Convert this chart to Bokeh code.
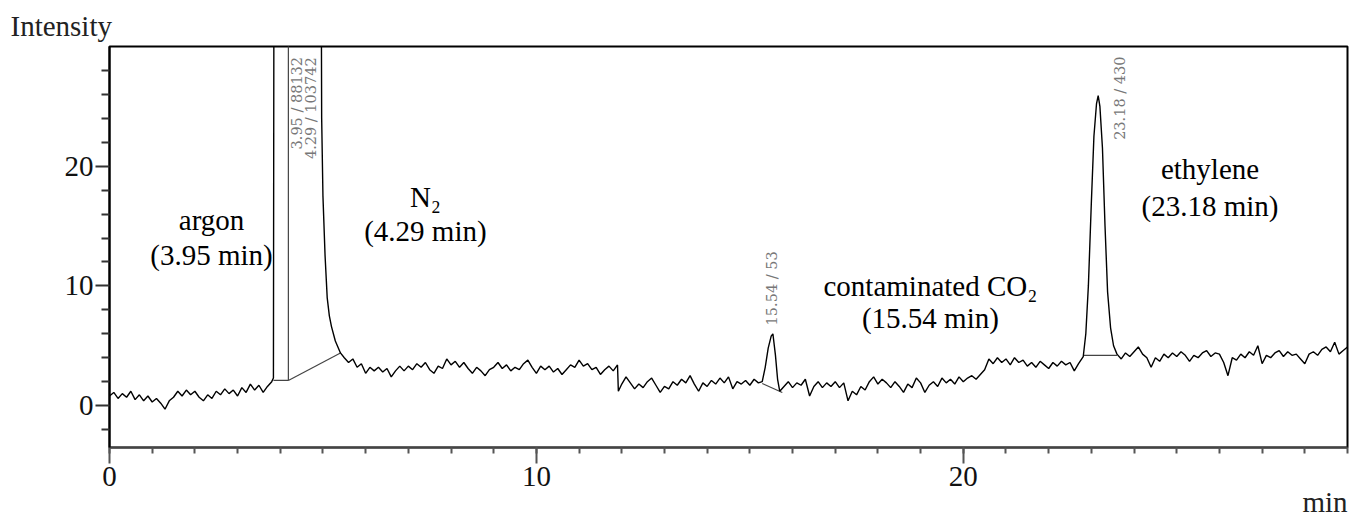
import math
import numpy as np
from bokeh.plotting import figure
from bokeh.models import (Range1d, SingleIntervalTicker, FixedTicker, Title,
                          ColumnDataSource)
from bokeh.core.properties import value
from bokeh.embed import file_html
from bokeh.resources import INLINE

# ---------------- data ----------------
# baseline segment before argon (0.0 - 3.8 min, 0.1 min steps)
seg_a = [0.8, 1.1, 0.6, 1.0, 0.7, 1.2, 0.5, 0.9, 0.4, 0.8, 0.3, 0.6, 0.2, -0.3, 0.4,
         0.7, 1.2, 0.8, 1.3, 0.9, 1.2, 0.7, 0.4, 0.9, 0.6, 1.2, 0.9, 1.4, 1.0, 1.3,
         0.8, 1.5, 1.1, 1.8, 1.3, 1.7, 1.1, 1.6, 2.0]
# argon rise + N2 tail (off-scale part above the frame)
peak1_t = [3.84, 3.86, 4.94, 4.97, 5.00, 5.05, 5.10, 5.15, 5.20, 5.29, 5.35, 5.41]
peak1_y = [2.3, 60.0, 60.0, 24.0, 17.5, 12.5, 9.0, 7.5, 6.6, 5.4, 4.9, 4.4]
# baseline 5.5 - 11.9 min
seg_b = [4.0, 3.6, 3.9, 3.2, 3.5, 2.7, 3.2, 2.9, 3.2, 2.8, 3.1, 2.4, 2.9, 3.3, 2.9,
         3.3, 3.0, 3.5, 3.2, 3.6, 3.0, 2.7, 3.3, 3.1, 3.9, 3.4, 3.7, 3.2, 3.6, 3.1,
         2.7, 3.2, 2.9, 2.5, 3.0, 3.2, 3.6, 3.1, 3.4, 2.9, 3.2, 3.0, 3.5, 3.8, 3.2,
         2.7, 3.3, 3.0, 3.3, 2.8, 3.1, 2.6, 3.0, 3.4, 3.2, 3.8, 3.3, 3.5, 3.0, 3.2,
         2.6, 3.0, 3.3, 2.9, 3.4]
step_t = [11.92]
step_y = [1.2]
# baseline 12.0 - 15.2 min
seg_c = [1.8, 2.4, 1.9, 1.4, 1.8, 1.5, 2.0, 2.3, 1.7, 1.1, 1.6, 1.4, 2.0, 1.7, 2.2,
         1.9, 2.5, 1.8, 1.2, 1.9, 1.6, 2.1, 1.8, 2.3, 1.9, 2.4, 1.4, 2.0, 1.8, 2.1,
         1.7, 2.2, 1.9]
# CO2 peak
peak3_t = [15.29, 15.36, 15.43, 15.50, 15.54, 15.60, 15.65, 15.70]
peak3_y = [2.0, 3.2, 4.8, 5.8, 6.0, 4.2, 2.2, 1.2]
# baseline 15.8 - 22.7 min
seg_d = [1.6, 2.0, 1.5, 1.9, 1.7, 2.2, 0.8, 1.6, 2.0, 1.5, 1.9, 1.6, 2.0, 1.5, 1.9,
         0.4, 1.2, 0.9, 1.6, 1.3, 2.0, 2.4, 1.8, 2.2, 1.9, 1.5, 2.0, 1.6, 1.1, 1.8,
         1.5, 2.3, 1.9, 1.1, 1.7, 2.0, 1.6, 2.3, 1.9, 2.2, 1.8, 2.4, 2.0, 2.3, 2.5,
         2.2, 2.6, 3.0, 3.9, 3.5, 4.0, 3.6, 3.9, 3.4, 4.0, 3.6, 3.8, 3.3, 3.6, 3.2,
         3.7, 3.4, 3.1, 3.6, 3.3, 3.7, 3.4, 3.6, 2.9, 3.5]
# ethylene peak
peak4_t = [22.81, 22.87, 22.93, 23.00, 23.06, 23.12, 23.16, 23.20, 23.26, 23.32,
           23.38, 23.45, 23.52, 23.60]
peak4_y = [4.1, 6.0, 10.0, 17.0, 22.5, 25.2, 25.9, 25.0, 21.5, 15.0, 9.5, 6.5, 5.0, 4.3]
# baseline 23.7 - 29.0 min
seg_e = [3.9, 4.4, 4.1, 4.5, 4.9, 4.3, 4.0, 3.2, 4.0, 3.7, 4.3, 4.0, 4.4, 4.1, 4.5,
         4.2, 3.7, 4.2, 4.0, 4.4, 4.6, 4.1, 4.4, 4.3, 3.6, 2.5, 4.0, 3.8, 4.3, 4.0,
         4.5, 4.2, 5.0, 3.5, 4.2, 4.0, 4.4, 4.6, 4.1, 4.5, 4.2, 4.3, 3.9, 3.5, 4.3,
         4.5, 4.2, 4.7, 4.9, 4.5, 5.3, 4.3, 4.6, 4.9]

# integration baselines (start t, start y, end t, end y)
base_t0 = [3.84, 4.19, 4.19, 15.29, 22.81]
base_y0 = [2.1, 2.1, 2.1, 1.85, 4.2]
base_t1 = [4.19, 4.19, 5.41, 15.76, 23.60]
base_y1 = [2.1, 60.0, 4.4, 1.1, 4.2]

# peak table
peak_rt = [3.95, 4.29, 15.54, 23.18]
peak_area = [88132, 103742, 53, 430]
compound = ["argon", "N\u2082", "contaminated CO\u2082", "ethylene"]

x_tick_interval = 10
y_major_ticks = [0, 10, 20]
y_minor_ticks = [-2, 2, 4, 6, 8, 12, 14, 16, 18, 22, 24, 26, 28]

# ---------------- assemble trace ----------------
def seg_times(start, n):
    return list(np.round(start + 0.1 * np.arange(n), 2))

t_all = (seg_times(0.0, len(seg_a)) + peak1_t + seg_times(5.5, len(seg_b)) + step_t +
         seg_times(12.0, len(seg_c)) + peak3_t + seg_times(15.8, len(seg_d)) +
         peak4_t + seg_times(23.7, len(seg_e)))
y_all = (seg_a + peak1_y + seg_b + step_y + seg_c + peak3_y + seg_d + peak4_y + seg_e)

SERIF = "Liberation Serif"

p = figure(width=1350, height=522, output_backend="svg", toolbar_location=None,
           x_range=Range1d(0, 29.0), y_range=Range1d(-3.5, 30.0),
           min_border_left=109, min_border_right=3, min_border_top=46,
           min_border_bottom=75, background_fill_color="white",
           border_fill_color="white", outline_line_color="black",
           outline_line_width=2)
p.grid.visible = False

# axes
p.xaxis.ticker = SingleIntervalTicker(interval=x_tick_interval, num_minor_ticks=10)
p.yaxis.ticker = FixedTicker(ticks=y_major_ticks, minor_ticks=y_minor_ticks)
for ax in (p.xaxis[0], p.yaxis[0]):
    ax.major_label_text_font = SERIF
    ax.major_label_text_font_size = "29px"
    ax.major_label_text_color = "#111111"
    ax.major_tick_in = 0
    ax.minor_tick_in = 0
    ax.axis_line_width = 2
    ax.major_tick_line_width = 2
    ax.minor_tick_line_width = 2
p.xaxis.axis_line_color = "#444444"
p.xaxis.major_tick_line_color = "#555555"
p.xaxis.minor_tick_line_color = "#555555"
p.xaxis.major_tick_out = 16
p.xaxis.minor_tick_out = 6
p.xaxis.major_label_standoff = 3
p.yaxis.axis_line_color = "black"
p.yaxis.major_tick_line_color = "#333333"
p.yaxis.minor_tick_line_color = "#333333"
p.yaxis.major_tick_out = 14
p.yaxis.minor_tick_out = 8
p.yaxis.major_label_standoff = 2

# integration baselines and drop lines
p.segment(x0=base_t0, y0=base_y0, x1=base_t1, y1=base_y1,
          line_color="#444444", line_width=1.2)

# chromatogram trace
p.line(t_all, y_all, line_color="black", line_width=1.4)

# rotated peak tags
tag_text = [f"{rt:.2f} / {a}" for rt, a in zip(peak_rt, peak_area)]
tag_src = ColumnDataSource(dict(x=[4.40, 4.71, 15.52, 23.68],
                                y=[21.4, 20.6, 6.7, 22.2], text=tag_text))
p.text(x="x", y="y", text="text", source=tag_src, angle=math.pi / 2,
       text_font=value("DejaVu Serif"), text_font_size="14.5px",
       text_color="#777777", text_align="left", text_baseline="middle")

# compound annotations
name_x = [2.39, 7.40, 19.23, 25.78]
name_y = [15.5, 17.4, 10.0, 19.8]
rt_y = [12.6, 14.6, 7.3, 16.7]
p.text(x=name_x, y=name_y, text=compound, text_font=value(SERIF),
       text_font_size="29px", text_color="black", text_align="center",
       text_baseline="middle")
p.text(x=name_x, y=rt_y, text=[f"({rt:.2f} min)" for rt in peak_rt],
       text_font=value(SERIF), text_font_size="29px", text_color="black",
       text_align="center", text_baseline="middle")

# axis titles
p.add_layout(Title(text="Intensity", align="left", offset=-99, standoff=10,
                   text_font=SERIF, text_font_size="29px",
                   text_font_style="normal", text_color="#222222"), "above")
p.add_layout(Title(text="min", align="right", standoff=-10,
                   text_font=SERIF, text_font_size="29px",
                   text_font_style="normal", text_color="#222222"), "below")

open("out.html", "w").write(file_html(p, INLINE))
